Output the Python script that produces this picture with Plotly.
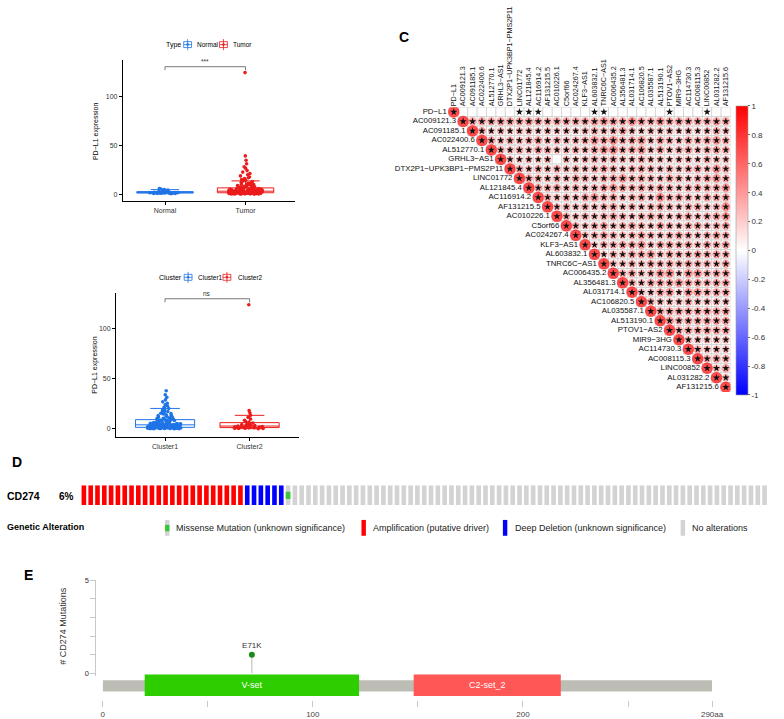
import math
import plotly.graph_objects as go

W, H = 784, 719
FONT = "Liberation Sans, Arial, Helvetica, sans-serif"


def fx(p):
    return p / W


def fy(p):
    return 1 - p / H


# ---------------- Panel A / B data ----------------
normal_expr = [0.4, 0.6, 0.8, 0.9, 1.0, 1.1, 1.2, 1.2, 1.3, 1.4, 1.5, 1.5, 1.6, 1.7, 1.8,
               1.9, 2.0, 2.1, 2.3, 2.6, 3.0, 3.4, 3.8, 4.2, 4.6, 5.2, 5.8, 0.7, 1.1, 1.6]
tumor_expr = [0.1, 0.2, 0.2, 0.3, 0.3, 0.4, 0.4, 0.5, 0.5, 0.6, 0.6, 0.7, 0.7, 0.8, 0.8, 0.9, 0.9,
              1.0, 1.0, 1.0, 1.1, 1.1, 1.2, 1.2, 1.3, 1.3, 1.4, 1.4, 1.5, 1.5, 1.5, 1.6, 1.6, 1.7,
              1.7, 1.8, 1.8, 1.9, 1.9, 2.0, 2.0, 2.1, 2.1, 2.2, 2.2, 2.3, 2.3, 2.4, 2.4, 2.5,
              0.15, 0.35, 0.55, 0.75, 0.95, 1.05, 1.25, 1.45, 1.65, 1.85, 2.05, 2.25, 2.45, 0.25,
              0.65, 1.15, 1.35, 1.75, 1.95, 2.15,
              2.6, 2.7, 2.8, 2.9, 3.0, 3.1, 3.2, 3.3, 3.4, 3.5, 3.6, 3.7, 3.8, 3.9, 4.0, 4.1, 4.2,
              4.3, 4.4, 4.5, 4.6, 4.7, 4.8, 4.9, 5.0, 2.65, 2.85, 3.15, 3.45, 3.75, 4.05, 4.35,
              4.65, 4.95, 3.05, 3.55, 4.15, 4.75,
              5.2, 5.5, 5.8, 6.0, 6.3, 6.6, 7.0, 7.3, 7.6, 8.0, 8.3, 8.7, 9.0, 9.4, 9.8, 5.4, 6.1,
              6.8, 7.5, 8.2, 8.9, 9.6,
              10.2, 10.8, 11.5, 12.1, 12.8, 13.5, 14.2, 15.0, 15.8, 16.7, 17.5, 18.6, 19.8, 11.1,
              21.0, 22.5, 24.0, 26.5, 28.0, 31.0, 34.5, 39.0, 124.0]
cluster1_expr = [0.1, 0.2, 0.3, 0.3, 0.4, 0.5, 0.5, 0.6, 0.7, 0.7, 0.8, 0.9, 0.9, 1.0, 1.1, 1.1,
                 1.2, 1.3, 1.3, 1.4, 1.5, 1.5, 1.6, 1.7, 1.8, 1.9, 2.0, 2.1, 2.2, 2.3, 2.4, 2.5,
                 0.25, 0.45, 0.65, 0.85, 1.05, 1.25, 1.45, 1.65, 1.85, 2.05, 2.25, 2.45, 0.15,
                 0.55, 0.95, 1.35, 1.75, 2.15,
                 2.6, 2.8, 3.0, 3.2, 3.4, 3.6, 3.8, 4.0, 4.2, 4.4, 4.6, 4.8, 5.0, 5.2, 5.4, 5.6,
                 5.8, 6.0, 2.7, 3.1, 3.5, 3.9, 4.3, 4.7, 5.1, 5.5, 5.9, 2.9, 3.3, 3.7, 4.1, 4.5,
                 4.9, 5.3, 5.7,
                 6.3, 6.7, 7.1, 7.5, 7.9, 8.3, 8.7, 9.1, 9.5, 9.9, 10.4, 10.9, 11.4, 11.9, 6.5,
                 7.3, 8.1, 8.9, 9.7, 10.6, 11.6,
                 12.5, 13.2, 14.0, 14.8, 15.6, 16.5, 17.4, 18.3, 19.3, 20.4, 21.5, 22.8, 24.0,
                 13.6, 15.2, 17.0, 19.0,
                 25.5, 27.0, 29.0, 31.5, 34.0, 38.0]
cluster2_expr = [0.2, 0.4, 0.5, 0.7, 0.9, 1.0, 1.2, 1.3, 1.5, 1.7, 1.9, 2.0, 2.2, 2.4, 2.6, 2.9,
                 3.1, 3.4, 3.7, 4.0, 4.4, 4.8, 5.3, 5.9, 6.5, 7.4, 8.5, 9.8, 11.5, 13.5, 15.8,
                 18.2, 0.3, 1.1, 2.7, 124.0]
groups_A = ["Normal", "Tumor"]
groups_B = ["Cluster1", "Cluster2"]
sig_label_A = "***"
sig_label_B = "ns"
bracket_y_A = 130
bracket_y_B = 130

# ---------------- Panel C data ----------------
genes = ["PD−L1", "AC009121.3", "AC091185.1", "AC022400.6", "AL512770.1", "GRHL3−AS1",
         "DTX2P1−UPK3BP1−PMS2P11", "LINC01772", "AL121845.4", "AC116914.2", "AF131215.5",
         "AC010226.1", "C5orf66", "AC024267.4", "KLF3−AS1", "AL603832.1", "TNRC6C−AS1",
         "AC006435.2", "AL356481.3", "AL031714.1", "AC106820.5", "AL035587.1", "AL513190.1",
         "PTOV1−AS2", "MIR9−3HG", "AC114730.3", "AC008115.3", "LINC00852", "AL031282.2",
         "AF131215.6"]
# upper triangle (off-diagonal), row i holds columns i+1 .. end
corr_upper = [
    [.03, .02, .03, .02, .05, .06, .12, .13, .12, .03, .02, .05, .03, .02, .12, .11, .04, .05, .03, .04, .03, .04, .12, .05, .03, .06, .12, .04, .05],
    [.52, .50, .52, .54, .50, .52, .54, .52, .48, .50, .52, .50, .52, .54, .57, .54, .52, .60, .54, .52, .57, .52, .54, .52, .50, .52, .54, .50],
    [.47, .37, .42, .37, .42, .42, .37, .42, .37, .40, .37, .42, .47, .42, .44, .52, .42, .37, .42, .40, .42, .37, .42, .37, .40, .47, .42],
    [.52, .42, .47, .42, .47, .52, .42, .47, .42, .44, .47, .57, .52, .62, .47, .52, .57, .42, .52, .47, .42, .52, .47, .50, .57, .47],
    [.47, .42, .47, .42, .52, .47, .42, .42, .47, .42, .52, .57, .62, .47, .52, .57, .42, .52, .42, .47, .52, .42, .47, .52, .47],
    [.42, .37, .42, .37, .42, .05, .42, .37, .42, .47, .42, .47, .42, .42, .47, .42, .42, .37, .42, .42, .37, .47, .42, .42],
    [.47, .42, .47, .42, .47, .42, .47, .42, .47, .52, .47, .42, .47, .52, .47, .42, .47, .42, .47, .52, .42, .57, .47],
    [.52, .47, .42, .47, .42, .52, .47, .42, .47, .52, .57, .47, .52, .47, .42, .52, .47, .42, .47, .52, .57, .47],
    [.52, .47, .52, .42, .47, .42, .47, .52, .57, .52, .47, .52, .47, .52, .47, .42, .47, .52, .47, .52, .57],
    [.47, .42, .47, .42, .52, .57, .47, .52, .42, .47, .52, .42, .62, .47, .52, .47, .42, .52, .47, .52],
    [.42, .47, .42, .47, .42, .47, .52, .42, .47, .42, .47, .52, .47, .42, .47, .52, .42, .47, .62],
    [.47, .42, .47, .42, .47, .52, .47, .42, .47, .52, .47, .42, .47, .52, .42, .47, .52, .57],
    [.47, .42, .47, .52, .42, .47, .52, .47, .42, .52, .47, .42, .47, .52, .42, .47, .52],
    [.42, .47, .52, .47, .42, .47, .52, .47, .42, .47, .52, .47, .42, .47, .52, .47],
    [.37, .47, .47, .52, .52, .57, .42, .52, .52, .47, .52, .42, .52, .47, .52],
    [.37, .47, .42, .52, .52, .57, .42, .52, .47, .47, .52, .47, .52, .47],
    [.42, .42, .47, .42, .52, .47, .52, .47, .52, .47, .47, .42, .52],
    [.47, .52, .42, .47, .57, .62, .37, .57, .57, .47, .52, .52],
    [.47, .42, .52, .52, .52, .57, .52, .52, .47, .52, .52],
    [.42, .42, .52, .57, .37, .57, .57, .47, .52, .52],
    [.47, .42, .42, .42, .47, .42, .42, .42, .42],
    [.52, .52, .52, .52, .52, .52, .52, .52],
    [.57, .47, .52, .52, .52, .52, .52],
    [.47, .52, .52, .52, .52, .52],
    [.42, .42, .42, .42, .42],
    [.47, .42, .42, .42],
    [.47, .52, .47],
    [.42, .52],
    [.42],
]
pdl1_sig_genes = ["LINC01772", "AL121845.4", "AC116914.2", "AL603832.1", "TNRC6C−AS1",
                  "PTOV1−AS2", "LINC00852"]
nonsig_pairs = [("GRHL3−AS1", "AC010226.1")]
cbar_ticks = [1, 0.8, 0.6, 0.4, 0.2, 0, -0.2, -0.4, -0.6, -0.8, -1]

# ---------------- Panel D data ----------------
alt_order = ["amp", "del", "mis", "none"]
alt_counts = [24, 6, 1, 70]
alt_names = {"mis": "Missense Mutation (unknown significance)",
             "amp": "Amplification (putative driver)",
             "del": "Deep Deletion (unknown significance)",
             "none": "No alterations"}
alt_colors = {"amp": "#FF0000", "del": "#0000FF", "mis": "#3BC43B", "none": "#D3D3D3"}
gene_D = "CD274"
pct_D = "6%"

# ---------------- Panel E data ----------------
protein_length = 290
domain_names = ["V-set", "C2-set_2"]
domain_start = [20, 148]
domain_end = [122, 218]
domain_colors = ["#2DCD00", "#FF5656"]
mut_names = ["E71K"]
mut_pos = [71]
mut_count = [1]

# ======================================================
fig = go.Figure()
BLUE = "#1F74E6"
RED = "#EC1C1C"


def box(name, vals, color, xa, ya):
    return go.Box(x=[name] * len(vals), y=vals, name=name, xaxis=xa, yaxis=ya,
                  boxpoints="all", jitter=0.6, pointpos=0, width=0.7,
                  line=dict(color=color, width=1), fillcolor="white",
                  marker=dict(color=color, size=3.6, line=dict(width=0)),
                  showlegend=False, hoverinfo="y")


fig.add_trace(box(groups_A[0], normal_expr, BLUE, "x", "y"))
fig.add_trace(box(groups_A[1], tumor_expr, RED, "x", "y"))
fig.add_trace(box(groups_B[0], cluster1_expr, BLUE, "x2", "y2"))
fig.add_trace(box(groups_B[1], cluster2_expr, RED, "x2", "y2"))

for grp, by, xa, ya, lab in [(groups_A, bracket_y_A, "x", "y", sig_label_A),
                             (groups_B, bracket_y_B, "x2", "y2", sig_label_B)]:
    fig.add_trace(go.Scatter(x=[grp[0], grp[0], grp[1], grp[1]], y=[by - 3.5, by, by, by - 3.5],
                             mode="lines", line=dict(color="#555555", width=0.8),
                             xaxis=xa, yaxis=ya, showlegend=False, hoverinfo="skip"))
    fig.add_annotation(x=0.5, y=by, xref=xa, yref=ya, text=lab, showarrow=False,
                       yanchor="bottom", font=dict(size=6.5, color="#333"), yshift=0)

# ---------------- Panel C ----------------
n = len(genes)
for i in range(n - 1):
    if len(corr_upper[i]) != n - 1 - i:
        raise ValueError("row %d length" % i)
cx, cy, cr, sx, sy = [], [], [], [], []
nonsig_set = {(genes.index(a), genes.index(b)) for a, b in nonsig_pairs}
for i in range(n):
    for j in range(i, n):
        r = 1.0 if i == j else corr_upper[i][j - i - 1]
        cx.append(j)
        cy.append(i)
        cr.append(r)
        if i == 0:
            sig = (j == 0) or (genes[j] in pdl1_sig_genes)
        else:
            sig = (i, j) not in nonsig_set
        if sig:
            sx.append(j)
            sy.append(i)

fig.add_trace(go.Scatter(x=cx, y=cy, mode="markers", xaxis="x3", yaxis="y3",
                         marker=dict(symbol="square", size=9.55, color="white",
                                     line=dict(color="#CFCFCF", width=0.8)),
                         showlegend=False, hoverinfo="skip"))
fig.add_trace(go.Scatter(x=cx, y=cy, mode="markers", xaxis="x3", yaxis="y3",
                         marker=dict(symbol="circle", size=[11.5 * math.sqrt(abs(r)) for r in cr],
                                     color=cr, coloraxis="coloraxis", line=dict(width=0)),
                         showlegend=False, hovertext=["%s / %s: %.2f" % (genes[b], genes[a], r)
                                                      for a, b, r in zip(cy, cx, cr)],
                         hoverinfo="text"))
fig.add_trace(go.Scatter(x=sx, y=sy, mode="markers", xaxis="x3", yaxis="y3",
                         marker=dict(symbol="star", size=5.5, color="#111111", line=dict(width=0)),
                         showlegend=False, hoverinfo="skip"))
fig.add_trace(go.Scatter(x=[i - 0.75 for i in range(n)], y=list(range(n)), mode="text",
                         text=genes, textposition="middle left", xaxis="x3", yaxis="y3",
                         textfont=dict(size=7.8, color="#111", family=FONT),
                         showlegend=False, hoverinfo="skip", cliponaxis=False))

# ---------------- Panel D ----------------
samples = []
for t, c in zip(alt_order, alt_counts):
    samples += [t] * c
bg_idx = [k for k, s in enumerate(samples) if s in ("mis", "none")]
for t in ["amp", "del"]:
    idx = [k for k, s in enumerate(samples) if s == t]
    fig.add_trace(go.Bar(x=idx, y=[1] * len(idx), width=0.68, marker=dict(color=alt_colors[t], line=dict(width=0)),
                         xaxis="x4", yaxis="y4", showlegend=False, hoverinfo="skip"))
fig.add_trace(go.Bar(x=bg_idx, y=[1] * len(bg_idx), width=0.68,
                     marker=dict(color=alt_colors["none"], line=dict(width=0)),
                     xaxis="x4", yaxis="y4", showlegend=False, hoverinfo="skip"))
mis_idx = [k for k, s in enumerate(samples) if s == "mis"]
fig.add_trace(go.Bar(x=mis_idx, y=[0.36] * len(mis_idx), base=[0.31] * len(mis_idx), width=0.68,
                     marker=dict(color=alt_colors["mis"], line=dict(width=0)),
                     xaxis="x4", yaxis="y4", showlegend=False, hoverinfo="skip"))

# ---------------- Panel E ----------------
fig.add_trace(go.Bar(y=[0.53], x=[protein_length], base=[0], orientation="h", width=0.42,
                     marker=dict(color="#BDBDB6", line=dict(width=0)),
                     xaxis="x5", yaxis="y6", showlegend=False, hoverinfo="skip"))
fig.add_trace(go.Bar(y=[0.56] * len(domain_names), x=[e - s for s, e in zip(domain_start, domain_end)],
                     base=domain_start, orientation="h", width=0.8,
                     marker=dict(color=domain_colors, line=dict(width=0)),
                     text=domain_names, textposition="inside", insidetextanchor="middle",
                     textfont=dict(color="white", size=9, family=FONT), constraintext="none",
                     xaxis="x5", yaxis="y6", showlegend=False, hoverinfo="skip"))
for p, c in zip(mut_pos, mut_count):
    fig.add_trace(go.Scatter(x=[p, p], y=[-0.2, c], mode="lines", line=dict(color="#BBBBBB", width=1),
                             xaxis="x5", yaxis="y5", showlegend=False, hoverinfo="skip"))
fig.add_trace(go.Scatter(x=mut_pos, y=mut_count, mode="markers+text", text=mut_names,
                         textposition="top center", textfont=dict(size=8, color="#333", family=FONT),
                         marker=dict(color="#1B8A1B", size=6), xaxis="x5", yaxis="y5",
                         showlegend=False, hoverinfo="skip", cliponaxis=False))

# ---------------- axes ----------------
ax_common = dict(showgrid=False, zeroline=False, showline=True, linecolor="black", linewidth=0.8,
                 ticks="outside", ticklen=3, tickwidth=0.8, tickcolor="black",
                 tickfont=dict(size=7, color="#333", family=FONT))
cell = (741.8 - 455.2) / n
fig.update_layout(
    xaxis=dict(domain=[fx(123), fx(298)], anchor="y", type="category", categoryarray=groups_A,
               range=[-0.524, 1.61], **ax_common),
    yaxis=dict(domain=[fy(199), fy(57)], anchor="x", range=[-7.07, 136.4], tickvals=[0, 50, 100],
               **ax_common),
    xaxis2=dict(domain=[fx(116), fx(302)], anchor="y2", type="category", categoryarray=groups_B,
                range=[-0.581, 1.58], **ax_common),
    yaxis2=dict(domain=[fy(437), fy(292)], anchor="x2", range=[-7.9, 135.6], tickvals=[0, 50, 100],
                **ax_common),
    xaxis3=dict(domain=[fx(455.2 - 12 * cell), fx(741.8)], anchor="y3", range=[-12.5, n - 0.5], side="top",
                tickvals=list(range(n)), ticktext=genes, tickangle=-90, showgrid=False,
                zeroline=False, showline=False, ticks="",
                tickfont=dict(size=7.2, color="#111", family=FONT)),
    yaxis3=dict(domain=[fy(391.8), fy(104.2)], anchor="x3", range=[n - 0.5, -0.5], visible=False),
    xaxis4=dict(domain=[fx(79.9), fx(779.9)], anchor="y4", range=[-0.5, len(samples) - 0.5], visible=False),
    yaxis4=dict(domain=[fy(506), fy(486)], anchor="x4", range=[0, 1], visible=False),
    xaxis5=dict(domain=[fx(102.5), fx(723)], anchor="y6", range=[0, protein_length],
                tickvals=[0, 50, 100, 150, 200, 250, 290], ticktext=["0", "", "100", "", "200", "", "290aa"],
                ticks="outside", ticklen=6, tickcolor="#C8C8C8", tickwidth=1, showline=False,
                showgrid=False, zeroline=False, tickfont=dict(size=8, color="#444", family=FONT)),
    yaxis5=dict(domain=[fy(679), fy(582)], anchor="free", position=fx(95), range=[-0.16, 5],
                tickvals=[0, 1, 2, 3, 4, 5], ticktext=["0", "", "", "", "", "5"], ticks="outside",
                ticklen=5, tickcolor="#C8C8C8", showline=True, linecolor="#C8C8C8", linewidth=1,
                showgrid=False, zeroline=False, tickfont=dict(size=7.5, color="#333", family=FONT)),
    yaxis6=dict(domain=[fy(703), fy(676)], anchor="x5", range=[0, 1], visible=False),
    coloraxis=dict(cmin=-1, cmax=1,
                   colorscale=[[0, "#0000FF"], [0.5, "#FFFFFF"], [1, "#FF0000"]],
                   colorbar=dict(x=fx(747), xanchor="left", xpad=0, y=fy(103), yanchor="top", ypad=0,
                                 len=289, lenmode="pixels", thickness=12, outlinewidth=0.6,
                                 outlinecolor="#999", tickvals=cbar_ticks,
                                 ticktext=["%g" % t for t in cbar_ticks],
                                 ticks="outside", ticklen=2, tickcolor="#666",
                                 tickfont=dict(size=8, color="#333", family=FONT))),
    boxmode="overlay", barmode="overlay",
    width=W, height=H, margin=dict(l=0, r=0, t=0, b=0),
    paper_bgcolor="white", plot_bgcolor="white", showlegend=False,
    font=dict(family=FONT),
)

# ---------------- annotations ----------------
ann = []


def txt(x, y, s, size, color="black", bold=False, xanchor="center", yanchor="middle", angle=0):
    ann.append(dict(x=fx(x), y=fy(y), xref="paper", yref="paper", showarrow=False,
                    text=("<b>%s</b>" % s) if bold else s, textangle=angle,
                    font=dict(size=size, color=color, family=FONT), xanchor=xanchor, yanchor=yanchor))


for lab, x, y in [("A", 68, 43), ("B", 66, 287), ("C", 409, 33), ("D", 15, 463), ("E", 27, 577)]:
    txt(x, y, lab, 14, bold=True)

txt(95, 128, "PD−L1 expression", 7, angle=-90)
txt(95, 364, "PD−L1 expression", 7, angle=-90)
txt(62, 628, "# CD274 Mutations", 9, color="#333", angle=-90)

shapes = []


def legend_icon(cx, cy, color):
    shapes.append(dict(type="rect", xref="paper", yref="paper", x0=fx(cx - 4), x1=fx(cx + 4),
                       y0=fy(cy - 3), y1=fy(cy + 3), line=dict(color=color, width=0.8), fillcolor="white"))
    shapes.append(dict(type="line", xref="paper", yref="paper", x0=fx(cx), x1=fx(cx),
                       y0=fy(cy - 5.5), y1=fy(cy + 5.5), line=dict(color=color, width=0.8)))
    shapes.append(dict(type="line", xref="paper", yref="paper", x0=fx(cx - 4), x1=fx(cx + 4),
                       y0=fy(cy), y1=fy(cy), line=dict(color=color, width=0.8)))
    shapes.append(dict(type="circle", xref="paper", yref="paper", x0=fx(cx - 1.3), x1=fx(cx + 1.3),
                       y0=fy(cy - 1.3), y1=fy(cy + 1.3), line=dict(width=0), fillcolor=color))


txt(165, 41, "Type", 7, xanchor="left")
legend_icon(189, 41, BLUE)
txt(197, 41, groups_A[0], 6.5, xanchor="left")
legend_icon(225.5, 41, RED)
txt(233, 41, groups_A[1], 6.5, xanchor="left")

txt(158, 276, "Cluster", 7, xanchor="left")
legend_icon(189.5, 276, BLUE)
txt(198, 276, groups_B[0], 6.5, xanchor="left")
legend_icon(229, 276, RED)
txt(238, 276, groups_B[1], 6.5, xanchor="left")

# Panel D labels and legend
txt(3, 497, gene_D, 10.5, bold=True, xanchor="left")
txt(56, 497, pct_D, 10, bold=True, xanchor="left")
txt(3, 528, "Genetic Alteration", 9, bold=True, xanchor="left")
for key, x0, xt in [("mis", 166, 175), ("amp", 366, 376), ("del", 510, 520), ("none", 691, 700)]:
    base_col = alt_colors["none"] if key == "mis" else alt_colors[key]
    shapes.append(dict(type="rect", xref="paper", yref="paper", x0=fx(x0), x1=fx(x0 + 4.5),
                       y0=fy(537), y1=fy(521), line=dict(width=0), fillcolor=base_col))
    if key == "mis":
        shapes.append(dict(type="rect", xref="paper", yref="paper", x0=fx(x0), x1=fx(x0 + 4.5),
                           y0=fy(532.5), y1=fy(526), line=dict(width=0), fillcolor=alt_colors["mis"]))
    txt(xt, 529, alt_names[key], 9, color="#222", xanchor="left")

fig.update_layout(annotations=ann, shapes=shapes)
fig.write_html("out.html", config={"displayModeBar": False},
               post_script="document.body.style.margin='0px';")
